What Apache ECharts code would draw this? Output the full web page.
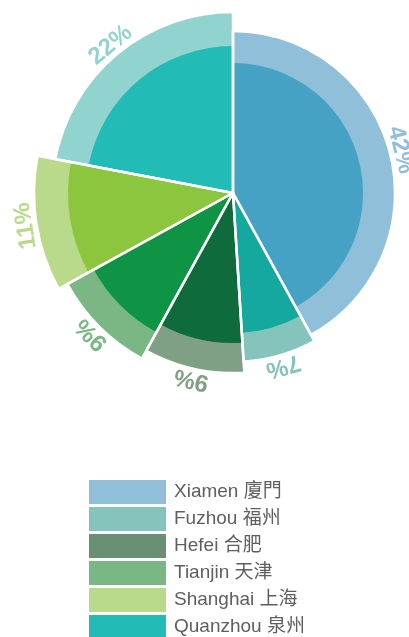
<!DOCTYPE html>
<html>
<head>
    <meta charset="utf-8" />
    <title>ECharts</title>
    <script src="https://cdn.jsdelivr.net/npm/echarts@6/dist/echarts.min.js"></script>
    <style>
        html, body { margin: 0; padding: 0; background: #fff; }
    </style>
</head>
<body>
<div id="main" style="width: 409px;height:637px;"></div>

<script type="text/javascript">
    // data
    var cities = ['Xiamen 廈門', 'Fuzhou 福州', 'Hefei 合肥', 'Tianjin 天津', 'Shanghai 上海', 'Quanzhou 泉州'];
    var shares = [42, 7, 9, 9, 11, 22];

    // style
    var outerColors = ['#8fbfd9', '#85c4bd', '#7fa084', '#7bb685', '#b9d98b', '#91d3cf'];
    var innerColors = ['#45a2c4', '#14a89e', '#0f6b3c', '#0e9444', '#8cc63f', '#23bbb5'];
    var legendColors = ['#8fbfd9', '#85c4bd', '#6b8f72', '#7bb685', '#b9d98b', '#23bbb5'];
    var outerR = [162, 169, 180, 189, 199, 181];
    var innerR = [130, 140, 150, 159, 165, 147];
    var center = [233, 193];
    var font = '"Liberation Sans", Arial, "Noto Sans CJK TC", sans-serif';

    var myChart = echarts.init(document.getElementById('main'));

    var total = shares.reduce(function (a, b) { return a + b; }, 0);

    // one slice of the pie is visible per series, the rest is transparent
    function sliceData(i, kind, color, rot) {
        return shares.map(function (v, j) {
            if (j !== i) {
                return { value: v, name: '', itemStyle: { color: 'transparent', borderWidth: 0 }, label: { show: false } };
            }
            if (kind === 'fill') {
                return { value: v, name: cities[j], itemStyle: { color: color, borderWidth: 0 }, label: { show: false } };
            }
            if (kind === 'border') {
                return { value: v, name: '', itemStyle: { color: 'transparent', borderColor: '#fff', borderWidth: 2.5 }, label: { show: false } };
            }
            return {
                value: v,
                name: '',
                itemStyle: { color: 'transparent', borderWidth: 0 },
                label: {
                    show: true,
                    position: 'inside',
                    rotate: rot,
                    formatter: v + '%',
                    color: outerColors[j],
                    fontSize: 24,
                    fontWeight: 'bold',
                    fontFamily: font
                }
            };
        });
    }

    var base = {
        type: 'pie',
        center: center,
        startAngle: 90,
        clockwise: true,
        silent: true,
        animation: false,
        emphasis: { disabled: true },
        labelLine: { show: false }
    };

    var fills = [], borders = [], labels = [];
    var cum = 0;
    shares.forEach(function (v, i) {
        var mid = (cum + v / 2) / total * 360;
        cum += v;
        fills.push(Object.assign({}, base, { radius: [0, outerR[i]], data: sliceData(i, 'fill', outerColors[i]) }));
        fills.push(Object.assign({}, base, { radius: [0, innerR[i]], data: sliceData(i, 'fill', innerColors[i]) }));
        borders.push(Object.assign({}, base, { radius: [0, outerR[i]], data: sliceData(i, 'border') }));
        labels.push(Object.assign({}, base, { radius: [outerR[i], outerR[i] + 16], data: sliceData(i, 'label', null, -mid) }));
    });

    var option = {
        backgroundColor: '#fff',
        legend: {
            orient: 'vertical',
            left: 89,
            top: 480,
            height: 300,
            padding: 0,
            itemWidth: 77,
            itemHeight: 24,
            itemGap: 3,
            icon: 'rect',
            selectedMode: false,
            textStyle: { fontSize: 19, color: '#5f5f5f', fontFamily: font, padding: [0, 0, 0, 3] },
            data: cities.map(function (c, i) {
                return { name: c, itemStyle: { color: legendColors[i] } };
            })
        },
        series: fills.concat(borders, labels)
    };

    myChart.setOption(option);
</script>
</body>
</html>
